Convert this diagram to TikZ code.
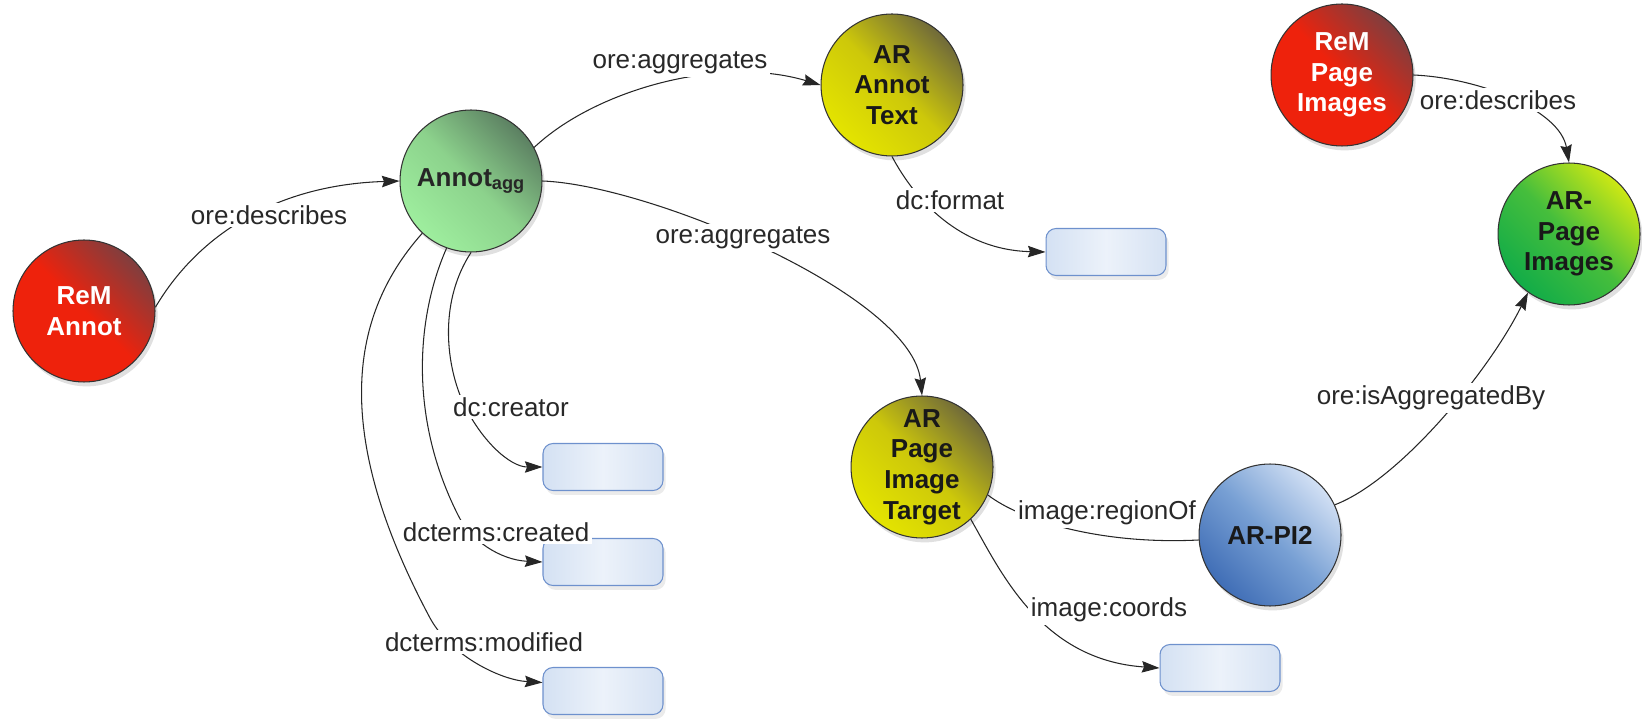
\documentclass[tikz,border=0pt]{standalone}
\usepackage{fontspec}
\setmainfont{Liberation Sans}
\usetikzlibrary{arrows.meta,shadows}
\definecolor{remA}{RGB}{238,34,12}
\definecolor{remB}{RGB}{128,62,62}
\definecolor{aggA}{RGB}{158,238,158}
\definecolor{aggM}{RGB}{140,210,140}
\definecolor{aggB}{RGB}{92,128,98}
\definecolor{yelA}{RGB}{228,228,0}
\definecolor{yelM}{RGB}{205,200,10}
\definecolor{yelB}{RGB}{112,106,58}
\definecolor{bluA}{RGB}{64,110,182}
\definecolor{bluM}{RGB}{120,160,212}
\definecolor{bluB}{RGB}{210,224,244}
\definecolor{grnA}{RGB}{18,172,72}
\definecolor{grnM}{RGB}{70,190,60}
\definecolor{grnB}{RGB}{205,232,20}
\definecolor{boxA}{RGB}{212,225,243}
\definecolor{boxC}{RGB}{236,242,250}
\definecolor{boxB}{RGB}{214,226,243}
\definecolor{boxD}{RGB}{110,145,205}
\definecolor{lblc}{RGB}{40,40,40}
\begin{document}
\begin{tikzpicture}[x=0.02cm,y=-0.02cm,
  circ/.style={circle, draw=black!80, line width=0.6pt, minimum size=2.84cm, inner sep=0pt,
    align=center, font=\fontsize{14.8}{17.5}\selectfont\bfseries,
    drop shadow={shadow xshift=1.5pt, shadow yshift=-2.5pt, opacity=0.12, fill=black}},
  remnode/.style={circ, bottom color=remA, top color=remB, middle color=remA, shading angle=-45, text=white},
  aggnode/.style={circ, bottom color=aggA, top color=aggB, middle color=aggM, shading angle=-45, text=black!85},
  yelnode/.style={circ, bottom color=yelA, top color=yelB, middle color=yelM, shading angle=-45, text=black!90},
  blunode/.style={circ, bottom color=bluA, top color=bluB, middle color=bluM, shading angle=-45, text=black!90},
  grnnode/.style={circ, bottom color=grnA, top color=grnB, middle color=grnM, shading angle=-45, text=black!90},
  vbox/.style={rectangle, rounded corners=0.2cm, draw=boxD, line width=0.6pt,
    minimum width=2.4cm, minimum height=0.94cm, left color=boxA, right color=boxB, middle color=boxC,
    drop shadow={shadow xshift=1.5pt, shadow yshift=-2.5pt, opacity=0.08, fill=black}},
  lbl/.style={fill=white, inner sep=1.5pt, font=\fontsize{14.8}{17}\selectfont, text=lblc},
  edge/.style={line width=0.6pt, draw=black!85},
  arr/.style={edge, -{Stealth[length=10pt,width=6.5pt,inset=1.2pt]}}
]
\useasboundingbox (0,0) rectangle (1642,722);

% circles
\node[remnode] (rema)  at (84,311)   {ReM\\Annot};
\node[aggnode] (annot) at (471,181)  {Annot\textsubscript{agg}};
\node[yelnode] (artext) at (892,85)  {AR\\Annot\\Text};
\node[yelnode] (arpit) at (922,467)  {AR\\Page\\Image\\Target};
\node[blunode] (arpi2) at (1270,535) {AR-PI2};
\node[remnode] (rempi) at (1342,75)  {ReM\\Page\\Images};
\node[grnnode] (arpi)  at (1569,234) {AR-\\Page\\Images};

% literal boxes
\node[vbox] (bfmt)    at (1106,252) {};
\node[vbox] (bcoords) at (1220,668) {};
\node[vbox] (bcre)    at (603,467)  {};
\node[vbox] (bcrd)    at (603,562)  {};
\node[vbox] (bmod)    at (603,691)  {};

% connectors
\draw[arr] (rema.3) .. controls (195,240) and (270,185) .. (annot.west);
\draw[arr] (annot.28) .. controls (595,90) and (720,55) .. (artext.west);
\draw[arr] (annot.east) .. controls (650,185) and (912,295) .. (arpit.north);
\draw[arr] (artext.south) .. controls (915,200) and (960,250) .. (bfmt.west);
\draw[arr] (annot.south) .. controls (440,300) and (445,360) .. (462,400)
           .. controls (480,440) and (510,467) .. (bcre.west);
\draw[arr] (annot.-110) .. controls (415,320) and (410,420) .. (458,515)
           .. controls (470,540) and (500,560) .. (bcrd.west);
\draw[arr] (annot.-133) .. controls (345,320) and (335,440) .. (430,618)
           .. controls (450,655) and (500,680) .. (bmod.172);
\draw[edge] (arpit.-23) .. controls (1020,520) and (1100,545) .. (arpi2.184);
\draw[arr] (arpit.-47) .. controls (1000,570) and (1040,660) .. (bcoords.west);
\draw[arr] (arpi2.25) .. controls (1400,480) and (1490,370) .. (arpi.-125);
\draw[arr] (rempi.east) .. controls (1480,78) and (1560,110) .. (arpi.north);

% labels
\node[lbl] (l1)  at (269,215)  {ore:describes};
\node[lbl] (l2)  at (680,63)   {ore:aggregates};
\node[lbl] (l3)  at (743,238)  {ore:aggregates};
\node[lbl] (l4)  at (950,200)  {dc:format};
\node[lbl] (l5)  at (511,407)  {dc:creator};
\node[lbl] (l6)  at (496,532)  {dcterms:created};
\node[lbl] (l7)  at (484,642)  {dcterms:modified};
\node[lbl] (l8)  at (1107,513) {image:regionOf};
\node[lbl] (l9)  at (1109,610) {image:coords};
\node[lbl] (l10) at (1498,100) {ore:describes};
\node[lbl] (l11) at (1431,398) {ore:isAggregatedBy};
\end{tikzpicture}
\end{document}
